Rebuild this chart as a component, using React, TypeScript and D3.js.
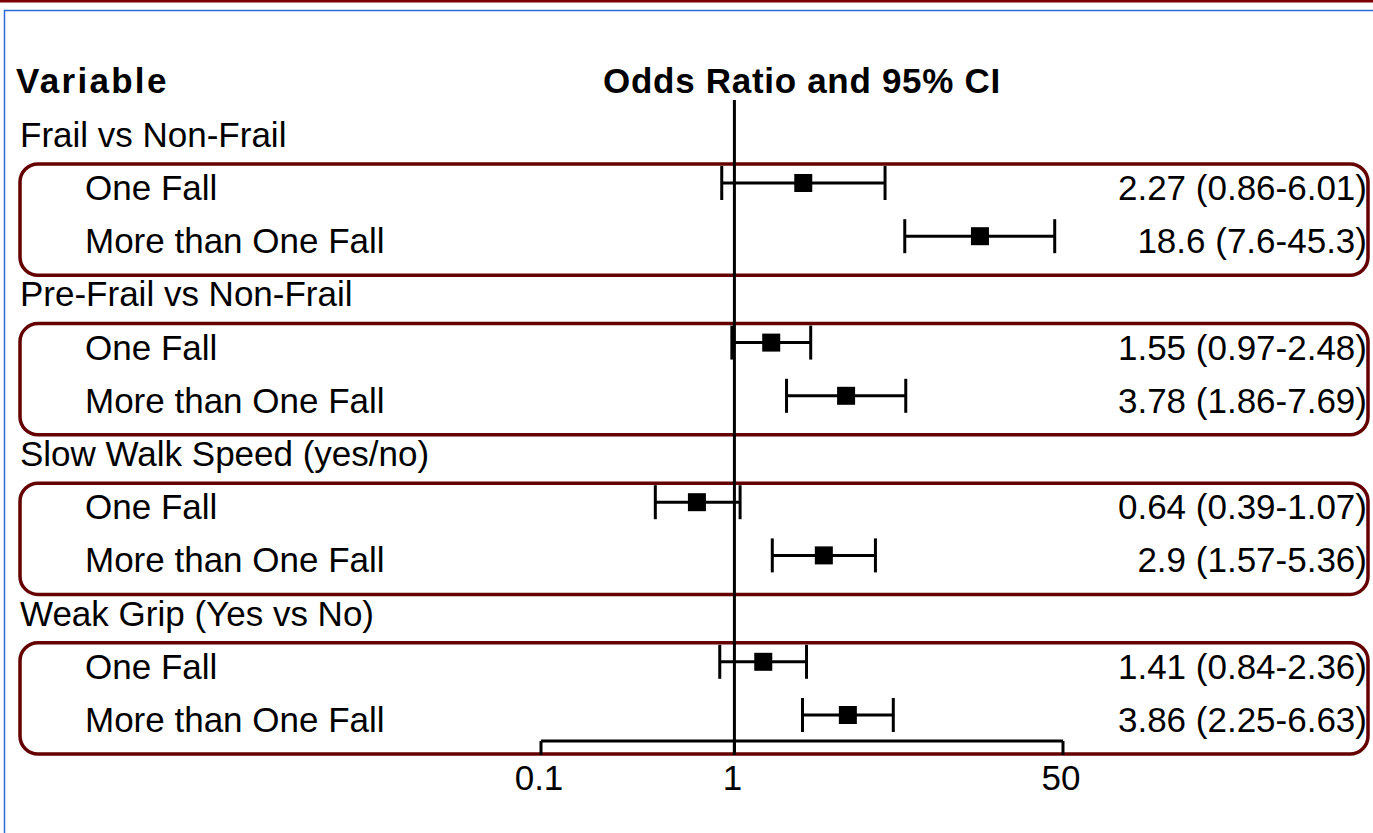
import React from "react";
import * as d3 from "d3";

// Forest plot: odds ratios of falls by frailty measures
const groups = [
  "Frail vs Non-Frail",
  "Pre-Frail vs Non-Frail",
  "Slow Walk Speed (yes/no)",
  "Weak Grip (Yes vs No)",
];
const outcomes = ["One Fall", "More than One Fall"];
const oddsRatio = [2.27, 18.6, 1.55, 3.78, 0.64, 2.9, 1.41, 3.86];
const lowerCI = [0.86, 7.6, 0.97, 1.86, 0.39, 1.57, 0.84, 2.25];
const upperCI = [6.01, 45.3, 2.48, 7.69, 1.07, 5.36, 2.36, 6.63];
const tickValues = [0.1, 1, 50];

const W = 1373;
const H = 833;
const FONT = "'Liberation Sans', Arial, sans-serif";
const BOX_COLOR = "#650000";

export default function App() {
  const x = d3.scaleLog().domain([0.1, 50]).range([541, 1063]);
  // row 0 is the first group heading; each group takes three rows
  const rowY = (i: number) => 129.8 + 53.2 * i;
  const axisY = 741;

  const rows: { label: string; y: number; k: number }[] = [];
  const headings: { label: string; y: number }[] = [];
  groups.forEach((g, gi) => {
    headings.push({ label: g, y: rowY(gi * 3) });
    outcomes.forEach((o, oi) => {
      rows.push({ label: o, y: rowY(gi * 3 + 1 + oi), k: gi * 2 + oi });
    });
  });

  const cap = 17;
  const box = 18;

  return (
    <svg
      width={W}
      height={H}
      style={{ position: "fixed", left: 0, top: 0, background: "#fff" }}
    >
      <rect x={0} y={0} width={W} height={H} fill="#fff" />
      {/* frame */}
      <rect x={0} y={0} width={W} height={2.5} fill="#7a0000" />
      <line x1={4} x2={W} y1={10.5} y2={10.5} stroke="#2f6bd6" strokeWidth={1.5} />
      <line x1={4.5} x2={4.5} y1={10} y2={H} stroke="#2f6bd6" strokeWidth={1.5} />

      {/* column headings */}
      <text x={16} y={93} fontFamily={FONT} fontWeight="bold" fontSize={35} letterSpacing={2.3} fill="#000">
        Variable
      </text>
      <text
        x={(x(0.1) + x(50)) / 2}
        y={93}
        textAnchor="middle"
        fontFamily={FONT}
        fontWeight="bold"
        fontSize={35}
        letterSpacing={0.7}
        fill="#000"
      >
        Odds Ratio and 95% CI
      </text>

      {/* rounded group boxes */}
      {groups.map((g, gi) => {
        const top = rowY(gi * 3 + 1) - 19;
        const bottom = rowY(gi * 3 + 2) + 39;
        return (
          <rect
            key={g}
            x={20}
            y={top}
            width={1348}
            height={bottom - top}
            rx={18}
            ry={18}
            fill="none"
            stroke={BOX_COLOR}
            strokeWidth={3.5}
          />
        );
      })}

      {/* reference line at OR = 1 */}
      <line x1={x(1)} x2={x(1)} y1={100} y2={753} stroke="#000" strokeWidth={3} />

      {/* headings */}
      {headings.map((h) => (
        <text key={h.label} x={20} y={h.y + 17} fontFamily={FONT} fontSize={35} fill="#000">
          {h.label}
        </text>
      ))}

      {/* rows */}
      {rows.map((r) => {
        const or = oddsRatio[r.k];
        const lo = lowerCI[r.k];
        const hi = upperCI[r.k];
        return (
          <g key={r.k}>
            <text x={85} y={r.y + 17} fontFamily={FONT} fontSize={35} fill="#000">
              {r.label}
            </text>
            <line x1={x(lo)} x2={x(hi)} y1={r.y} y2={r.y} stroke="#000" strokeWidth={3} />
            <line x1={x(lo)} x2={x(lo)} y1={r.y - cap} y2={r.y + cap} stroke="#000" strokeWidth={3} />
            <line x1={x(hi)} x2={x(hi)} y1={r.y - cap} y2={r.y + cap} stroke="#000" strokeWidth={3} />
            <rect x={x(or) - box / 2} y={r.y - box / 2} width={box} height={box} fill="#000" />
            <text x={1367} y={r.y + 17} textAnchor="end" fontFamily={FONT} fontSize={35} fill="#000">
              {`${or} (${lo}-${hi})`}
            </text>
          </g>
        );
      })}

      {/* axis */}
      <line x1={x(0.1)} x2={x(50)} y1={axisY} y2={axisY} stroke="#000" strokeWidth={3} />
      {tickValues.map((t) => (
        <g key={t}>
          <line x1={x(t)} x2={x(t)} y1={axisY} y2={axisY + 14} stroke="#000" strokeWidth={3} />
          <text x={x(t) - 2} y={790} textAnchor="middle" fontFamily={FONT} fontSize={35} fill="#000">
            {String(t)}
          </text>
        </g>
      ))}
    </svg>
  );
}
